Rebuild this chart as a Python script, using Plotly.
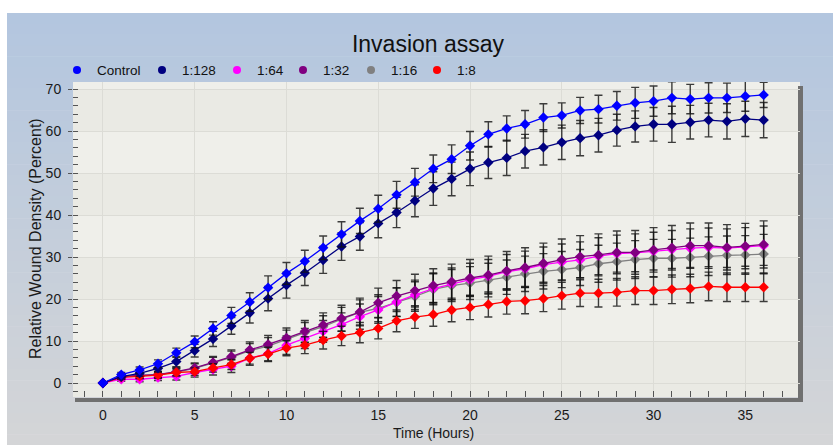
import plotly.graph_objects as go

# ---------------- data ----------------
hours = list(range(37))
series_names = ["Control", "1:128", "1:64", "1:32", "1:16", "1:8"]
series_colors = ["#0000ff", "#000080", "#ff00ff", "#800080", "#808080", "#ff0000"]

control = [0, 2.0, 3.1, 4.6, 7.2, 9.8, 13.0, 16.1, 19.3, 22.7, 26.1, 29.0, 32.2, 35.4, 38.6, 41.5,
           44.8, 47.8, 51.0, 53.3, 56.5, 59.2, 60.6, 61.6, 63.2, 63.7, 64.9, 65.2, 66.0, 66.7,
           67.1, 67.9, 67.6, 67.9, 67.9, 68.3, 68.6]
d128 = [0, 1.5, 2.3, 3.5, 5.1, 7.7, 10.5, 13.6, 16.7, 20.1, 23.3, 26.2, 29.3, 32.5, 34.9, 38.0,
        40.6, 43.4, 46.3, 48.6, 51.0, 52.5, 53.6, 55.2, 56.1, 57.3, 58.3, 59.0, 60.2, 61.1,
        61.6, 61.6, 62.1, 62.6, 62.3, 62.9, 62.6]
d64 = [0, 0.9, 0.9, 1.3, 1.6, 2.5, 3.2, 4.0, 5.9, 7.0, 9.0, 10.6, 12.3, 13.9, 15.8, 17.4,
       19.3, 21.0, 22.5, 23.6, 24.6, 25.4, 26.5, 27.2, 28.2, 28.8, 29.3, 30.2, 30.8, 31.0,
       31.4, 31.8, 32.1, 32.3, 32.1, 32.4, 32.7]
d32 = [0, 1.5, 1.8, 2.0, 2.7, 3.6, 4.9, 6.3, 7.9, 9.2, 10.7, 12.3, 13.8, 15.4, 16.9, 19.1,
       20.7, 22.0, 23.2, 24.1, 25.0, 25.7, 26.7, 27.5, 28.5, 29.4, 30.1, 30.5, 31.1, 31.1,
       31.7, 32.2, 32.7, 32.7, 32.3, 32.6, 33.0]
d16 = [0, 1.5, 1.8, 2.0, 2.6, 3.5, 4.8, 6.1, 7.7, 8.8, 10.4, 12.0, 13.4, 15.2, 16.8, 17.8,
       19.2, 20.6, 22.3, 23.2, 23.8, 24.5, 25.2, 26.0, 26.6, 27.0, 27.5, 28.4, 28.9, 29.4,
       29.7, 29.7, 29.9, 30.2, 30.4, 30.5, 30.7]
d8 = [0, 1.35, 1.6, 1.9, 2.5, 2.7, 3.6, 4.4, 5.9, 6.9, 8.3, 9.0, 10.2, 11.2, 12.0, 13.0,
      14.8, 15.7, 16.3, 17.4, 18.0, 18.7, 19.4, 19.6, 20.1, 20.8, 21.4, 21.4, 21.6, 22.0,
      22.0, 22.3, 22.5, 23.0, 22.8, 22.8, 22.8]

control_err = [0, 0.5, 0.7, 0.9, 1.1, 1.4, 1.6, 1.9, 2.2, 2.8, 2.6, 2.6, 2.8, 3.0, 3.0, 3.2,
               3.2, 3.3, 3.3, 3.4, 3.4, 3.0, 3.0, 3.3, 3.3, 3.0, 3.1, 3.3, 3.4, 3.7,
               3.6, 3.8, 3.5, 3.6, 3.5, 3.6, 3.0]
d128_err = [0, 0.5, 0.7, 0.9, 1.2, 1.5, 1.8, 2.0, 2.4, 2.9, 3.1, 3.0, 3.2, 3.3, 3.3, 3.4,
            3.6, 3.8, 4.0, 4.0, 4.0, 3.8, 4.2, 4.0, 4.2, 4.1, 4.2, 4.0, 3.8, 3.7,
            4.0, 4.3, 4.0, 4.0, 4.2, 4.2, 4.2]
d64_err = [0, 0.5, 0.6, 0.7, 0.9, 1.1, 1.3, 1.5, 1.7, 1.9, 2.2, 2.4, 2.6, 2.8, 3.0, 3.2,
           3.4, 3.5, 3.7, 3.8, 3.9, 4.0, 4.1, 4.2, 4.2, 4.3, 4.3, 4.4, 4.4, 4.5,
           4.5, 4.5, 4.6, 4.6, 4.6, 4.6, 4.7]
d32_err = [0, 0.6, 0.7, 0.8, 1.0, 1.2, 1.4, 1.6, 1.9, 2.1, 2.4, 2.6, 2.9, 3.1, 3.3, 3.5,
           3.7, 3.9, 4.0, 4.2, 4.4, 4.5, 4.6, 4.7, 4.8, 4.9, 5.0, 5.0, 5.1, 5.2,
           5.3, 5.3, 5.4, 5.4, 5.4, 5.4, 5.6]
d16_err = [0, 0.5, 0.6, 0.7, 0.9, 1.1, 1.3, 1.5, 1.7, 2.0, 2.2, 2.4, 2.6, 2.8, 3.0, 3.2,
           3.4, 3.5, 3.7, 3.8, 3.9, 4.0, 4.1, 4.2, 4.2, 4.3, 4.3, 4.4, 4.4, 4.5,
           4.5, 4.5, 4.6, 4.6, 4.6, 4.6, 4.7]
d8_err = [0, 0.5, 0.6, 0.7, 0.8, 0.9, 1.0, 1.2, 1.4, 1.6, 1.8, 2.0, 2.1, 2.3, 2.4, 2.5,
          2.6, 2.7, 2.8, 2.8, 2.9, 3.0, 3.0, 3.1, 3.1, 3.2, 3.2, 3.3, 3.3, 3.3,
          3.3, 3.4, 3.4, 3.4, 3.4, 3.4, 3.4]

series_values = [control, d128, d64, d32, d16, d8]
series_errors = [control_err, d128_err, d64_err, d32_err, d16_err, d8_err]

x_ticks = [0, 5, 10, 15, 20, 25, 30, 35]
y_ticks = [0, 10, 20, 30, 40, 50, 60, 70]

# ---------------- layout geometry (pixels) ----------------
W, H = 833, 445
L, R, T, B = 73, 800, 82, 397
X_RANGE = [-1.63, 37.98]
Y_RANGE = [-3.33, 71.67]
LEGEND_MARKER_PX = [78, 163, 238, 304, 372, 438]   # legend entry positions (layout)


def px(p):
    return (p - L) / (R - L)


def py(p):
    return (B - p) / (B - T)


shapes = []
# gradient background (outer panel)
top_c = (179, 198, 223)
bot_c = (212, 213, 215)
n = 40
y_start, y_end = 13, 445
for i in range(n):
    f = i / (n - 1)
    c = tuple(int(round(top_c[k] + (bot_c[k] - top_c[k]) * f)) for k in range(3))
    y0 = y_start + (y_end - y_start) * i / n
    y1 = y_start + (y_end - y_start) * (i + 1) / n + 0.6
    shapes.append(dict(type="rect", xref="paper", yref="paper", layer="below",
                       x0=px(7), x1=px(833), y0=py(y1), y1=py(y0),
                       fillcolor="rgb(%d,%d,%d)" % c, line=dict(width=0)))
# plot area background
shapes.append(dict(type="rect", xref="paper", yref="paper", layer="below",
                   x0=0, x1=1, y0=0, y1=1, fillcolor="#efefea", line=dict(width=0)))
for lo in [-10, 0, 20, 40, 60]:
    hi = lo + 10 if lo >= 0 else 0
    shapes.append(dict(type="rect", xref="paper", yref="y", layer="below",
                       x0=0, x1=1, y0=lo, y1=hi, fillcolor="#eaeae4", line=dict(width=0)))
# dark shadow bars (bottom and right)
shapes.append(dict(type="rect", xref="paper", yref="paper", layer="below",
                   x0=px(75), x1=px(803), y0=py(402), y1=py(398),
                   fillcolor="#707070", line=dict(width=0)))
shapes.append(dict(type="rect", xref="paper", yref="paper", layer="below",
                   x0=px(798), x1=px(803), y0=py(402), y1=py(86),
                   fillcolor="#707070", line=dict(width=0)))

fig = go.Figure()

font_family = "Liberation Sans, Arial, sans-serif"

# legend entries (circles, as in the reference legend), one small legend per entry
legend_layouts = {}
for k, (name, col) in enumerate(zip(series_names, series_colors)):
    lg = "legend" if k == 0 else "legend%d" % (k + 1)
    fig.add_trace(go.Scatter(x=[None], y=[None], mode="markers", name=name,
                             marker=dict(symbol="circle", size=8, color=col),
                             showlegend=True, legend=lg))
    legend_layouts[lg] = dict(orientation="h", x=px(LEGEND_MARKER_PX[k] - 21), xanchor="left",
                              y=py(70.3), yanchor="middle", bgcolor="rgba(0,0,0,0)",
                              font=dict(size=13.5, color="#111111", family=font_family),
                              itemclick=False, itemdoubleclick=False)

# data traces
draw_order = [4, 2, 3, 5, 1, 0]
for i in draw_order:
    fig.add_trace(go.Scatter(
        x=hours, y=series_values[i], mode="lines+markers", name=series_names[i],
        showlegend=False,
        line=dict(color=series_colors[i], width=1.3),
        marker=dict(symbol="diamond", size=8, color=series_colors[i]),
        error_y=dict(type="data", array=series_errors[i], visible=True,
                     color="rgba(15,15,15,0.8)", thickness=1.4, width=4),
    ))

fig.update_layout(
    width=W, height=H,
    margin=dict(l=L, r=W - R, t=T, b=H - B, autoexpand=False),
    paper_bgcolor="white",
    plot_bgcolor="rgba(0,0,0,0)",
    font=dict(family=font_family, size=13, color="#1a1a1a"),
    title=dict(text="Invasion assay", x=428 / W, xref="container", xanchor="center",
               y=1 - 44 / H, yref="container", yanchor="middle",
               font=dict(size=23, color="#111111", family=font_family)),
    showlegend=True,
    shapes=shapes,
    xaxis=dict(range=X_RANGE, tickmode="array", tickvals=x_ticks,
               ticktext=[str(v) for v in x_ticks],
               showgrid=True, gridcolor="#dcdcd6", gridwidth=1, zeroline=False,
               ticks="inside", ticklen=6, tickcolor="#555555", tickwidth=1,
               minor=dict(dtick=1, tick0=0, ticks="inside", ticklen=6, tickcolor="#555555",
                          showgrid=False),
               ticklabelstandoff=8, showline=False,
               tickfont=dict(size=14, color="#1a1a1a")),
    yaxis=dict(range=Y_RANGE, tickmode="array", tickvals=y_ticks,
               ticktext=[str(v) for v in y_ticks],
               showgrid=True, gridcolor="#dcdcd6", gridwidth=1, zeroline=False,
               ticks="outside", ticklen=4, tickcolor="#555555", tickwidth=1,
               minor=dict(dtick=2, tick0=0, ticks="inside", ticklen=5, tickcolor="#555555",
                          showgrid=False),
               ticklabelstandoff=4, showline=False,
               tickfont=dict(size=14, color="#1a1a1a")),
    annotations=[
        dict(text="Time (Hours)", xref="paper", yref="paper", x=px(433), y=py(433),
             xanchor="center", yanchor="middle", showarrow=False,
             font=dict(size=14, color="#1a1a1a")),
        dict(text="Relative Wound Density (Percent)", xref="paper", yref="paper",
             x=px(35), y=py(239), xanchor="center", yanchor="middle", textangle=-90,
             showarrow=False, font=dict(size=16, color="#1a1a1a")),
    ],
)
fig.update_layout(**legend_layouts)

fig.write_html("out.html", config={"displayModeBar": False},
               post_script="document.body.style.margin='0px';document.body.style.padding='0px';")
